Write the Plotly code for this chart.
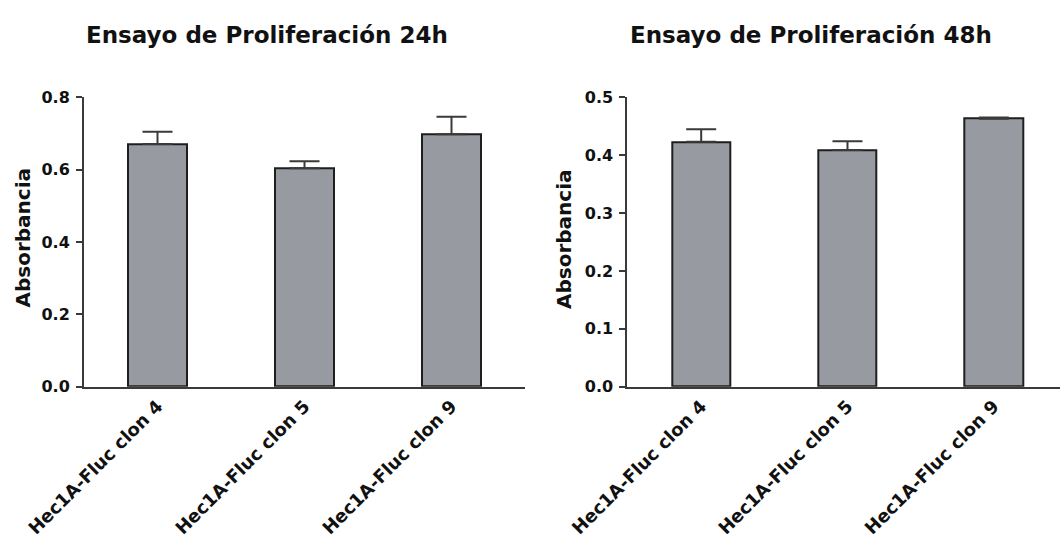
import plotly.graph_objects as go

# Clone labels and measured absorbance (mean and upper error) at each time point
clones = ["Hec1A-Fluc clon 4", "Hec1A-Fluc clon 5", "Hec1A-Fluc clon 9"]
abs_24h = [0.671, 0.604, 0.698]
err_24h = [0.034, 0.019, 0.048]
abs_48h = [0.423, 0.409, 0.463]
err_48h = [0.022, 0.015, 0.002]

titles = ["Ensayo de Proliferación 24h", "Ensayo de Proliferación 48h"]
y_title = "Absorbancia"

W, H = 1060, 540
FONT = "DejaVu Sans"
BAR_FILL = "#989aa1"
INK = "#1e1e1e"
AXIS = "#3a3a3a"


def px_x(v):
    return v / W


def px_y(v):
    return 1 - v / H


fig = go.Figure()

for i, (vals, errs) in enumerate([(abs_24h, err_24h), (abs_48h, err_48h)]):
    fig.add_trace(go.Bar(
        x=clones, y=vals,
        xaxis="x" if i == 0 else "x2",
        yaxis="y" if i == 0 else "y2",
        width=0.4,
        marker=dict(color=BAR_FILL, line=dict(color=INK, width=2)),
        error_y=dict(type="data", array=errs, arrayminus=[0] * len(errs),
                     symmetric=False, color=AXIS, thickness=2, width=15),
        showlegend=False,
    ))

y_dom = [px_y(386.7), px_y(97.3)]
tickfont = dict(family=FONT, size=16, color="#111111", weight="bold")
xtickfont = dict(family=FONT, size=18, color="#111111", weight="bold")

common_x = dict(type="category", showline=True, linecolor=AXIS, linewidth=2,
                ticks="", tickangle=-45, tickfont=xtickfont, showgrid=False,
                zeroline=False, fixedrange=True, automargin=False)
common_y = dict(showline=True, linecolor=AXIS, linewidth=2, ticks="outside",
                ticklen=6, tickwidth=2, tickcolor=AXIS, tickfont=tickfont,
                tickformat=".1f", showgrid=False, zeroline=False,
                ticklabelstandoff=3, automargin=False)

fig.update_layout(
    width=W, height=H,
    margin=dict(l=0, r=0, t=0, b=0, autoexpand=False),
    paper_bgcolor="white", plot_bgcolor="white",
    bargap=0,
    xaxis=dict(domain=[px_x(84), px_x(525)], range=[-0.5, 2.5],
               anchor="y", **common_x),
    yaxis=dict(domain=y_dom, range=[0, 0.8], dtick=0.2, anchor="x", **common_y),
    xaxis2=dict(domain=[px_x(627.3), 1.0], range=[-0.505, 2.4525],
                anchor="y2", **common_x),
    yaxis2=dict(domain=y_dom, range=[0, 0.5], dtick=0.1, anchor="x2", **common_y),
)

# Panel titles
for cx, text in zip([267, 811], titles):
    fig.add_annotation(text="<b>%s</b>" % text, x=px_x(cx), y=px_y(35),
                       xref="paper", yref="paper", xanchor="center",
                       yanchor="middle", showarrow=False,
                       font=dict(family=FONT, size=23, color="#111111"))

# Rotated y-axis titles
for cx, cy in [(22.5, 238), (564, 239)]:
    fig.add_annotation(text="<b>%s</b>" % y_title, x=px_x(cx), y=px_y(cy),
                       xref="paper", yref="paper", xanchor="center",
                       yanchor="middle", textangle=-90, showarrow=False,
                       font=dict(family=FONT, size=20, color="#111111"))

fig.write_html("out.html")
